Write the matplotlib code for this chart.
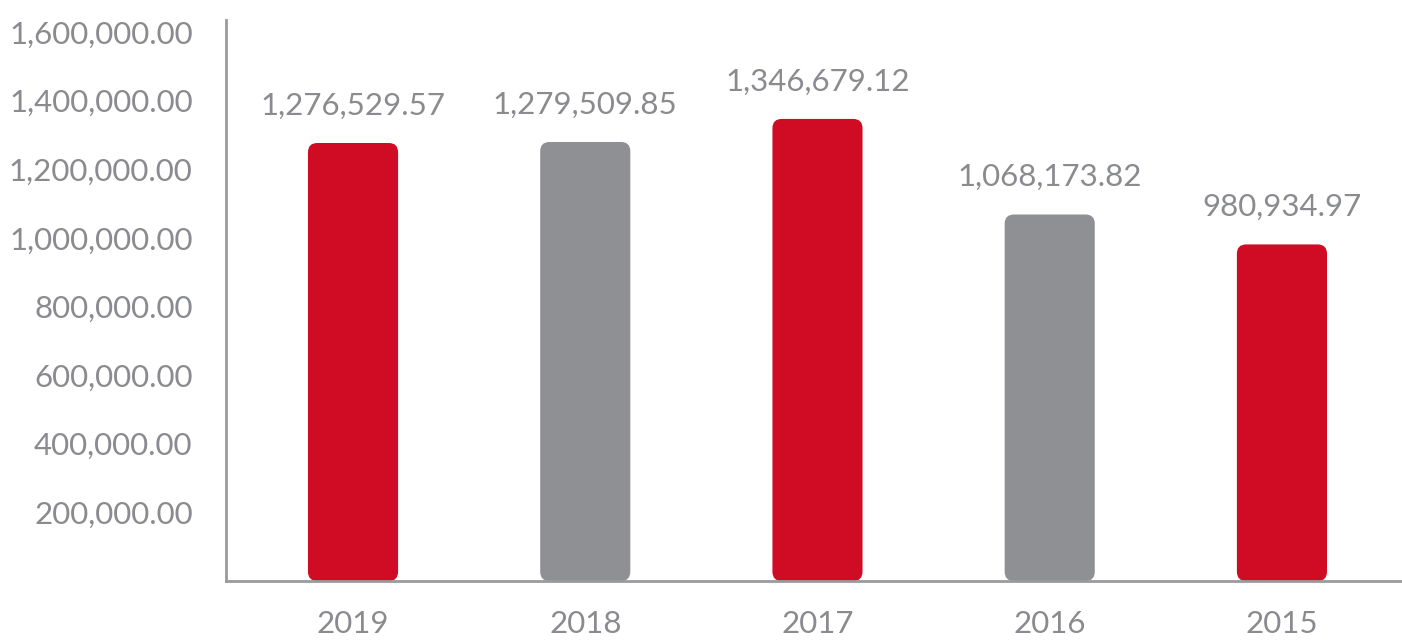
import matplotlib
matplotlib.use("Agg")
import matplotlib.pyplot as plt
from matplotlib.patches import FancyBboxPatch

# Data.
years = ["2019", "2018", "2017", "2016", "2015"]
values = [1276529.57, 1279509.85, 1346679.12, 1068173.82, 980934.97]
colors = ["#D00C24", "#8F9094", "#D00C24", "#8F9094", "#D00C24"]
yticks = [200000, 400000, 600000, 800000, 1000000, 1200000, 1400000, 1600000]

text_gray = "#8A8B8F"
plt.rcParams["font.family"] = ["Lato", "DejaVu Sans"]

fig = plt.figure(figsize=(14.02, 6.4), dpi=100)
ax = fig.add_axes([226 / 1402, 59 / 640, 1176 / 1402, 561 / 640])

ymax = 1635000
ax.set_xlim(-0.547, 4.517)
ax.set_ylim(0, ymax)

# Aspect to keep the rounded corners circular in pixel space.
x_per_px = (4.517 + 0.547) / 1176
y_per_px = ymax / 561
aspect = y_per_px / x_per_px

width = 0.388
for i, (v, c) in enumerate(zip(values, colors)):
    bar = FancyBboxPatch((i - width / 2, 0), width, v,
                         boxstyle="round,pad=0,rounding_size=0.04",
                         mutation_aspect=aspect, facecolor=c, edgecolor="none")
    ax.add_patch(bar)
    ax.annotate(f"{v:,.2f}", (i, v), xytext=(0, 27), textcoords="offset points",
                ha="center", va="center", fontsize=22.5, color=text_gray)

ax.set_xticks(range(len(years)))
ax.set_xticklabels(years)
ax.set_yticks(yticks)
ax.set_yticklabels([f"{t:,.2f}" for t in yticks])
ax.tick_params(axis="both", length=0, labelsize=22.5, labelcolor=text_gray)
ax.tick_params(axis="y", pad=24)
ax.tick_params(axis="x", pad=21)

for side in ["top", "right"]:
    ax.spines[side].set_visible(False)
for side in ["left", "bottom"]:
    ax.spines[side].set_color("#9A9A9E")
    ax.spines[side].set_linewidth(2)

fig.savefig("out.png", dpi=100)
